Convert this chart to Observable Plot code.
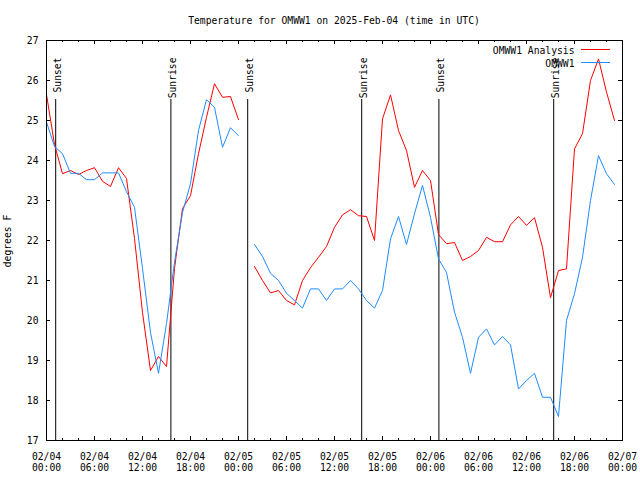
<!DOCTYPE html>
<html><head><meta charset="utf-8">
<script src="https://cdn.jsdelivr.net/npm/d3@7"></script>
<script src="https://cdn.jsdelivr.net/npm/@observablehq/plot@0.6"></script>
<style>body{margin:0;background:#fff}svg{display:block}</style>
</head><body><div id="chart"></div>
<script>
const title = "Temperature for OMWW1 on 2025-Feb-04 (time in UTC)";
const yLabel = "degrees F";
const seriesNames = ["OMWW1 Analysis", "OMWW1"];
const seriesColors = ["#ff0000", "#1e8cff"];

// hours since 2025-02-04 00:00 UTC
const hours = [0,1,2,3,4,5,6,7,8,9,10,11,12,13,14,15,16,17,18,19,20,21,22,23,24,25,
  26,27,28,29,30,31,32,33,34,35,36,37,38,39,40,41,42,43,44,45,46,47,48,49,50,
  51,52,53,54,55,56,57,58,59,60,61,62,63,64,65,66,67,68,69,70,71];

const analysis = [25.65,24.4,23.67,23.75,23.65,23.75,23.82,23.48,23.35,23.82,23.55,22.05,20.2,18.75,19.1,18.85,21.3,22.8,23.12,24.17,25.08,25.92,25.58,25.6,25.02,null,
  21.35,21.0,20.69,20.75,20.5,20.39,21.0,21.32,21.58,21.85,22.33,22.64,22.77,22.62,22.6,22.0,25.04,25.64,24.75,24.25,23.33,23.75,23.5,22.15,21.92,
  21.95,21.5,21.6,21.75,22.08,21.97,21.97,22.39,22.6,22.38,22.57,21.83,20.57,21.25,21.29,24.29,24.67,26.0,26.54,25.71,25.0];

const observed = [24.96,24.35,24.17,23.68,23.68,23.52,23.52,23.69,23.69,23.69,23.22,22.83,21.3,19.7,18.68,19.92,21.46,22.7,23.42,24.75,25.52,25.33,24.33,24.82,24.62,null,
  21.9,21.6,21.18,21.0,20.68,20.5,20.31,20.79,20.79,20.5,20.79,20.79,21.0,20.79,20.5,20.31,20.75,22.04,22.6,21.9,22.67,23.38,22.58,21.54,21.2,
  20.21,19.58,18.68,19.58,19.79,19.39,19.6,19.39,18.29,18.5,18.68,18.08,18.08,17.6,20.0,20.67,21.58,23.0,24.12,23.67,23.4];

const eventLabels = ["Sunset","Sunrise","Sunset","Sunrise","Sunset","Sunrise"];
const eventHours = [1.15, 15.55, 25.15, 39.4, 49.05, 63.4];

const majorTickHours = [0,6,12,18,24,30,36,42,48,54,60,66,72];
const minorTickHours = [2,4,8,10,14,16,20,22,26,28,32,34,38,40,44,46,50,52,56,58,62,64,68,70];
const yTicks = [17,18,19,20,21,22,23,24,25,26,27];

const t0 = Date.UTC(2025, 1, 4);
const toDate = h => new Date(t0 + h * 3600e3);

const rowsA = hours.map((h, i) => ({time: toDate(h), value: analysis[i]}));
const rowsO = hours.map((h, i) => ({time: toDate(h), value: observed[i]}));
const majorDates = majorTickHours.map(toDate);
const minorDates = minorTickHours.map(toDate);
const eventIdx = eventHours.map((_, i) => i);

const fmtD = d3.utcFormat("%m/%d"), fmtT = d3.utcFormat("%H:%M");

const W = 640, H = 480, mL = 46, mR = 18, mT = 40, mB = 40;
const plotH = H - mT - mB, plotW = W - mL - mR;

const chart = Plot.plot({
  width: W, height: H,
  marginLeft: mL, marginRight: mR, marginTop: mT, marginBottom: mB,
  style: {fontFamily: "'DejaVu Sans Mono', monospace", fontSize: "9.7px", background: "#fff", color: "#000"},
  x: {type: "utc", domain: [toDate(0), toDate(72)]},
  y: {domain: [17, 27]},
  marks: [
    Plot.axisX(majorDates, {tickSize: 0, tickPadding: 11, lineHeight: 1.2, label: null,
      tickFormat: d => fmtD(d) + "\n" + fmtT(d)}),
    Plot.axisY(yTicks, {tickSize: 0, tickPadding: 8, label: null}),
    Plot.tickX(majorDates, {x: d => d, insetTop: plotH - 4, stroke: "#000"}),
    Plot.tickX(majorDates, {x: d => d, insetBottom: plotH - 4, stroke: "#000"}),
    Plot.tickX(minorDates, {x: d => d, insetTop: plotH - 2, stroke: "#000"}),
    Plot.tickX(minorDates, {x: d => d, insetBottom: plotH - 2, stroke: "#000"}),
    Plot.tickY(yTicks, {y: d => d, insetRight: plotW - 4, stroke: "#000"}),
    Plot.tickY(yTicks, {y: d => d, insetLeft: plotW - 4, stroke: "#000"}),
    Plot.ruleX(eventIdx, {x: i => toDate(eventHours[i]), insetTop: 59, stroke: "#000"}),
    Plot.text(eventIdx, {x: i => toDate(eventHours[i]), text: i => eventLabels[i], frameAnchor: "top",
      rotate: -90, textAnchor: "end", lineAnchor: "bottom", dx: 5, dy: 17, fill: "#000"}),
    Plot.line(rowsA, {x: "time", y: "value", stroke: seriesColors[0], strokeWidth: 1}),
    Plot.line(rowsO, {x: "time", y: "value", stroke: seriesColors[1], strokeWidth: 1}),
    Plot.text([seriesNames[0]], {frameAnchor: "top-right", text: d => d, textAnchor: "end", lineAnchor: "middle", dx: -48, dy: 10, fill: "#000"}),
    Plot.text([seriesNames[1]], {frameAnchor: "top-right", text: d => d, textAnchor: "end", lineAnchor: "middle", dx: -48, dy: 23, fill: "#000"}),
    Plot.frame({stroke: "#000"})
  ]
});

const svg = d3.select(chart);
svg.append("text").attr("x", 334).attr("y", 23.5).attr("text-anchor", "middle")
  .attr("fill", "#000").text(title);
svg.append("text").attr("transform", "translate(11,241) rotate(-90)").attr("text-anchor", "middle")
  .attr("fill", "#000").text(yLabel);
[49.5, 62.5].forEach((y, i) => {
  svg.append("line").attr("x1", 581).attr("x2", 610).attr("y1", y).attr("y2", y)
    .attr("stroke", seriesColors[i]).attr("stroke-width", 1);
});
document.getElementById("chart").appendChild(chart);
</script>
</body></html>
